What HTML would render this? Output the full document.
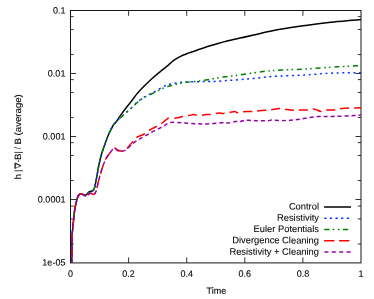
<!DOCTYPE html><html><head><meta charset="utf-8"><style>html,body{margin:0;padding:0;background:#fff}svg{display:block}svg{opacity:0.999;will-change:transform}text{text-rendering:geometricPrecision;stroke:#000;stroke-width:0.1px;font-family:"Liberation Sans",sans-serif;fill:#000}</style></head><body>
<svg width="374" height="299" viewBox="0 0 374 299">
<rect width="374" height="299" fill="#fff"/>
<path d="M70.5,16.61h3.2 M361.0,16.61h-3.2 M70.5,29.46h3.2 M361.0,29.46h-3.2 M70.5,54.54h3.2 M361.0,54.54h-3.2 M70.5,73.50h5.5 M361.0,73.50h-5.5 M70.5,79.61h3.2 M361.0,79.61h-3.2 M70.5,92.46h3.2 M361.0,92.46h-3.2 M70.5,117.54h3.2 M361.0,117.54h-3.2 M70.5,136.50h5.5 M361.0,136.50h-5.5 M70.5,142.61h3.2 M361.0,142.61h-3.2 M70.5,155.46h3.2 M361.0,155.46h-3.2 M70.5,180.54h3.2 M361.0,180.54h-3.2 M70.5,199.50h5.5 M361.0,199.50h-5.5 M70.5,206.10h3.2 M361.0,206.10h-3.2 M70.5,218.95h3.2 M361.0,218.95h-3.2 M70.5,244.00h3.2 M361.0,244.00h-3.2 M128.60,262.9v-5.5 M128.60,10.5v5.3 M186.70,262.9v-5.5 M186.70,10.5v5.3 M244.80,262.9v-5.5 M244.80,10.5v5.3 M302.90,262.9v-5.5 M302.90,10.5v5.3" stroke="#333" stroke-width="1" fill="none"/>
<rect x="70.5" y="10.5" width="290.5" height="252.39999999999998" fill="none" stroke="#161616" stroke-width="1"/>
<text transform="translate(65.4,13.50) rotate(0.03) scale(1,1.02)" font-size="9.0" text-anchor="end">0.1</text>
<text transform="translate(65.4,76.50) rotate(0.03) scale(1,1.02)" font-size="9.0" text-anchor="end">0.01</text>
<text transform="translate(65.4,139.50) rotate(0.03) scale(1,1.02)" font-size="9.0" text-anchor="end">0.001</text>
<text transform="translate(65.4,202.50) rotate(0.03) scale(1,1.02)" font-size="9.0" text-anchor="end">0.0001</text>
<text transform="translate(65.4,265.50) rotate(0.03) scale(1,1.02)" font-size="9.0" text-anchor="end">1e-05</text>
<text transform="translate(70.50,276.8) rotate(0.03) scale(1,1.02)" font-size="9.0" text-anchor="middle">0</text>
<text transform="translate(128.60,276.8) rotate(0.03) scale(1,1.02)" font-size="9.0" text-anchor="middle">0.2</text>
<text transform="translate(186.70,276.8) rotate(0.03) scale(1,1.02)" font-size="9.0" text-anchor="middle">0.4</text>
<text transform="translate(244.80,276.8) rotate(0.03) scale(1,1.02)" font-size="9.0" text-anchor="middle">0.6</text>
<text transform="translate(302.90,276.8) rotate(0.03) scale(1,1.02)" font-size="9.0" text-anchor="middle">0.8</text>
<text transform="translate(361.00,276.8) rotate(0.03) scale(1,1.02)" font-size="9.0" text-anchor="middle">1</text>
<text transform="translate(216.3,293.8) rotate(0.03) scale(1,1.02)" font-size="9.0" text-anchor="middle">Time</text>
<text transform="translate(21.2,179.4) rotate(-90) scale(1.1,1)" font-size="9.15">h</text>
<text transform="translate(21.2,172.1) rotate(-90) scale(1.0,1)" font-size="9.15">|</text>
<text transform="translate(21.2,160.1) rotate(-90) scale(1.07,1)" font-size="9.15">B</text>
<text transform="translate(21.2,153.6) rotate(-90) scale(1.0,1)" font-size="9.15">|</text>
<text transform="translate(21.2,149.3) rotate(-90) scale(0.78,1)" font-size="9.15">/</text>
<text transform="translate(21.2,144.5) rotate(-90) scale(1.05,1)" font-size="9.15">B</text>
<text transform="translate(21.2,135.4) rotate(-90) scale(1.055,1)" font-size="9.15">(average)</text>
<rect x="18.0" y="160.35" width="0.85" height="1.45" fill="#000"/>
<path d="M15.1,163.1L15.1,168.45L20.9,165.85Z" fill="none" stroke="#000" stroke-width="0.6" stroke-linejoin="miter"/><path d="M15.1,163L15.1,168.5" fill="none" stroke="#000" stroke-width="0.9"/><path d="M15.05,163.1L20.7,165.75" fill="none" stroke="#161616" stroke-width="1"/>
<g transform="scale(1,1.066)" fill="none">
<path d="M71.80,246.25C71.82,244.29 71.85,238.66 71.90,234.52C71.95,230.38 71.85,225.77 72.10,221.39C72.35,217.01 73.00,212.10 73.40,208.26C73.80,204.41 74.17,200.81 74.50,198.31C74.83,195.81 75.05,194.92 75.40,193.25C75.75,191.57 76.18,189.74 76.60,188.27C77.02,186.80 77.47,185.38 77.90,184.43C78.33,183.47 78.73,182.99 79.20,182.55C79.67,182.11 80.07,181.83 80.70,181.80C81.33,181.77 82.27,182.13 83.00,182.36C83.73,182.60 84.43,183.24 85.10,183.21C85.77,183.18 86.43,182.60 87.00,182.18C87.57,181.75 88.02,181.10 88.50,180.68C88.98,180.25 89.40,179.89 89.90,179.64C90.40,179.39 90.97,179.33 91.50,179.17C92.03,179.02 92.57,179.28 93.10,178.71C93.63,178.13 94.22,177.22 94.70,175.70C95.18,174.19 95.58,171.62 96.00,169.61C96.42,167.59 96.82,165.60 97.20,163.60C97.58,161.60 97.67,160.48 98.30,157.60C98.93,154.72 99.95,149.94 101.00,146.34C102.05,142.75 103.30,139.46 104.60,136.02C105.90,132.58 107.33,128.83 108.80,125.70C110.27,122.58 112.20,119.14 113.40,117.26C114.60,115.38 114.67,116.15 116.00,114.45C117.33,112.74 119.62,109.37 121.40,107.04C123.18,104.71 124.92,102.64 126.70,100.47C128.48,98.30 130.32,96.17 132.10,94.00C133.88,91.82 135.42,89.60 137.40,87.43C139.38,85.26 141.55,83.26 144.00,80.96C146.45,78.66 149.43,75.91 152.10,73.64C154.77,71.37 157.57,69.25 160.00,67.35C162.43,65.46 164.47,64.04 166.70,62.29C168.93,60.54 171.18,58.38 173.40,56.85C175.62,55.32 177.78,54.16 180.00,53.10C182.22,52.03 184.47,51.28 186.70,50.47C188.93,49.66 191.17,48.95 193.40,48.22C195.63,47.48 197.33,46.94 200.10,46.06C202.87,45.18 207.02,43.86 210.00,42.96C212.98,42.07 215.30,41.43 218.00,40.71C220.70,39.99 222.53,39.48 226.20,38.65C229.87,37.82 235.42,36.69 240.00,35.74C244.58,34.79 248.28,34.07 253.70,32.93C259.12,31.79 266.25,30.08 272.50,28.89C278.75,27.70 285.78,26.63 291.20,25.80C296.62,24.97 297.92,24.78 305.00,23.92C312.08,23.06 324.37,21.56 333.70,20.64C343.03,19.72 356.45,18.76 361.00,18.39" stroke="#000" stroke-width="1.45" stroke-linejoin="round"/>
<path d="M71.80,246.25C71.82,244.29 71.85,238.66 71.90,234.52C71.95,230.38 71.85,225.77 72.10,221.39C72.35,217.01 73.00,212.10 73.40,208.26C73.80,204.41 74.17,200.81 74.50,198.31C74.83,195.81 75.05,194.92 75.40,193.25C75.75,191.57 76.18,189.74 76.60,188.27C77.02,186.80 77.47,185.38 77.90,184.43C78.33,183.47 78.73,182.99 79.20,182.55C79.67,182.11 80.07,181.83 80.70,181.80C81.33,181.77 82.27,182.13 83.00,182.36C83.73,182.60 84.43,183.24 85.10,183.21C85.77,183.18 86.43,182.60 87.00,182.18C87.57,181.75 88.02,181.10 88.50,180.68C88.98,180.25 89.40,179.89 89.90,179.64C90.40,179.39 90.97,179.33 91.50,179.17C92.03,179.02 92.57,179.28 93.10,178.71C93.63,178.13 94.22,177.22 94.70,175.70C95.18,174.19 95.58,171.62 96.00,169.61C96.42,167.59 96.82,165.60 97.20,163.60C97.58,161.60 97.67,160.48 98.30,157.60C98.93,154.72 99.95,149.94 101.00,146.34C102.05,142.75 103.30,139.46 104.60,136.02C105.90,132.58 107.33,128.83 108.80,125.70C110.27,122.58 112.20,119.14 113.40,117.26C114.60,115.38 115.02,115.43 116.00,114.45C116.98,113.46 117.87,112.63 119.30,111.35C120.73,110.07 122.47,108.55 124.60,106.75C126.73,104.96 129.97,102.41 132.10,100.56C134.23,98.72 135.42,97.25 137.40,95.68C139.38,94.12 141.02,92.85 144.00,91.18C146.98,89.51 151.80,87.43 155.30,85.65C158.80,83.86 162.50,81.61 165.00,80.49C167.50,79.36 168.40,79.35 170.30,78.89C172.20,78.44 174.50,78.05 176.40,77.77C178.30,77.49 179.93,77.35 181.70,77.20C183.47,77.06 184.32,77.02 187.00,76.92C189.68,76.83 194.38,76.72 197.80,76.64C201.22,76.56 204.63,76.50 207.50,76.45C210.37,76.41 211.88,76.50 215.00,76.36C218.12,76.22 222.03,75.89 226.20,75.61C230.37,75.33 235.42,75.02 240.00,74.67C244.58,74.33 248.28,74.03 253.70,73.55C259.12,73.06 263.95,72.30 272.50,71.76C281.05,71.23 295.75,70.86 305.00,70.36C314.25,69.86 321.03,69.11 328.00,68.76C334.97,68.42 341.30,68.37 346.80,68.29C352.30,68.21 358.63,68.29 361.00,68.29" stroke="#0432ff" stroke-width="1.4" stroke-dasharray="2 3.6" stroke-dashoffset="4.75"/>
<path d="M71.80,246.25C71.82,244.29 71.85,238.66 71.90,234.52C71.95,230.38 71.85,225.77 72.10,221.39C72.35,217.01 73.00,212.10 73.40,208.26C73.80,204.41 74.17,200.81 74.50,198.31C74.83,195.81 75.05,194.92 75.40,193.25C75.75,191.57 76.18,189.74 76.60,188.27C77.02,186.80 77.47,185.38 77.90,184.43C78.33,183.47 78.73,182.99 79.20,182.55C79.67,182.11 80.07,181.83 80.70,181.80C81.33,181.77 82.27,182.13 83.00,182.36C83.73,182.60 84.43,183.24 85.10,183.21C85.77,183.18 86.43,182.60 87.00,182.18C87.57,181.75 88.02,181.10 88.50,180.68C88.98,180.25 89.40,179.89 89.90,179.64C90.40,179.39 90.97,179.33 91.50,179.17C92.03,179.02 92.57,179.28 93.10,178.71C93.63,178.13 94.22,177.22 94.70,175.70C95.18,174.19 95.58,171.62 96.00,169.61C96.42,167.59 96.82,165.60 97.20,163.60C97.58,161.60 97.67,160.48 98.30,157.60C98.93,154.72 99.95,149.94 101.00,146.34C102.05,142.75 103.30,139.46 104.60,136.02C105.90,132.58 107.33,128.83 108.80,125.70C110.27,122.58 112.20,119.14 113.40,117.26C114.60,115.38 115.02,115.40 116.00,114.45C116.98,113.49 117.87,112.77 119.30,111.54C120.73,110.30 122.47,108.80 124.60,107.04C126.73,105.27 129.97,102.78 132.10,100.94C134.23,99.09 135.42,97.51 137.40,95.97C139.38,94.42 141.02,93.25 144.00,91.65C146.98,90.06 151.80,87.99 155.30,86.40C158.80,84.80 162.27,83.11 165.00,82.08C167.73,81.05 169.37,80.82 171.70,80.21C174.03,79.60 176.55,78.94 179.00,78.42C181.45,77.91 184.07,77.41 186.40,77.11C188.73,76.81 190.73,76.84 193.00,76.64C195.27,76.44 197.58,76.19 200.00,75.89C202.42,75.59 205.08,75.25 207.50,74.86C209.92,74.47 211.38,74.03 214.50,73.55C217.62,73.06 221.95,72.50 226.20,71.95C230.45,71.40 233.87,71.08 240.00,70.26C246.13,69.45 256.03,67.84 263.00,67.07C269.97,66.31 274.80,66.06 281.80,65.67C288.80,65.28 295.72,65.23 305.00,64.73C314.28,64.23 329.00,63.16 337.50,62.66C346.00,62.16 352.08,61.93 356.00,61.73C359.92,61.52 360.17,61.49 361.00,61.44" stroke="#008000" stroke-width="1.4" stroke-dasharray="5 3.6 1.5 3.2 1.5 3.9" stroke-dashoffset="13.43"/>
<path d="M71.80,246.25C71.82,244.29 71.85,238.66 71.90,234.52C71.95,230.38 71.85,225.77 72.10,221.39C72.35,217.01 73.00,212.10 73.40,208.26C73.80,204.41 74.17,200.81 74.50,198.31C74.83,195.81 75.05,194.92 75.40,193.25C75.75,191.57 76.18,189.74 76.60,188.27C77.02,186.80 77.47,185.38 77.90,184.43C78.33,183.47 78.73,182.99 79.20,182.55C79.67,182.11 80.07,181.80 80.70,181.80C81.33,181.80 82.08,182.16 83.00,182.55C83.92,182.94 85.32,184.15 86.20,184.15C87.08,184.15 87.68,183.04 88.30,182.55C88.92,182.07 89.28,181.39 89.90,181.24C90.52,181.08 91.38,181.43 92.00,181.61C92.62,181.80 93.07,182.46 93.60,182.36C94.13,182.27 94.70,181.83 95.20,181.05C95.70,180.27 96.08,179.41 96.60,177.67C97.12,175.94 97.73,172.81 98.30,170.64C98.87,168.46 99.33,166.81 100.00,164.63C100.67,162.46 101.37,160.10 102.30,157.60C103.23,155.10 104.33,151.97 105.60,149.62C106.87,147.28 108.48,145.31 109.90,143.53C111.32,141.74 112.75,139.37 114.10,138.93C115.45,138.49 116.77,140.45 118.00,140.90C119.23,141.35 120.42,141.68 121.50,141.65C122.58,141.62 123.52,141.18 124.50,140.71C125.48,140.24 125.98,140.17 127.40,138.84C128.82,137.51 131.58,134.33 133.00,132.74C134.42,131.14 134.02,130.44 135.90,129.27C137.78,128.10 142.12,126.88 144.30,125.70C146.48,124.53 146.97,123.41 149.00,122.23C151.03,121.06 154.47,119.70 156.50,118.67C158.53,117.64 159.78,116.96 161.20,116.04C162.62,115.12 163.75,114.07 165.00,113.13C166.25,112.20 168.08,110.87 168.70,110.41" stroke="#ff0000" stroke-width="1.4" stroke-dasharray="9 5" stroke-dashoffset="9.92"/>
<path d="M168.70,110.41C169.65,110.51 172.05,111.16 174.40,110.98C176.75,110.79 180.47,109.71 182.80,109.29C185.13,108.86 186.62,108.74 188.40,108.44C190.18,108.15 192.25,107.60 193.50,107.50C194.75,107.41 194.40,107.79 195.90,107.88C197.40,107.97 200.82,108.16 202.50,108.07C204.18,107.97 204.75,107.41 206.00,107.32C207.25,107.22 208.40,107.63 210.00,107.50C211.60,107.38 214.10,106.82 215.60,106.57C217.10,106.32 217.60,106.04 219.00,106.00C220.40,105.97 222.23,106.44 224.00,106.38C225.77,106.32 227.82,105.93 229.60,105.63C231.38,105.33 233.38,104.57 234.70,104.60C236.02,104.63 236.12,105.77 237.50,105.82C238.88,105.86 240.67,105.08 243.00,104.88C245.33,104.67 249.17,104.74 251.50,104.60C253.83,104.46 254.65,104.24 257.00,104.03C259.35,103.83 263.23,103.55 265.60,103.38C267.97,103.21 268.87,103.25 271.20,103.00C273.53,102.75 277.27,101.94 279.60,101.88C281.93,101.81 282.85,102.36 285.20,102.63C287.55,102.89 291.28,103.38 293.70,103.47C296.12,103.56 297.32,103.24 299.70,103.19C302.08,103.14 305.67,103.35 308.00,103.19C310.33,103.03 311.50,102.02 313.70,102.25C315.90,102.49 319.02,104.44 321.20,104.60C323.38,104.75 324.45,103.42 326.80,103.19C329.15,102.95 332.95,103.39 335.30,103.19C337.65,102.99 338.57,102.27 340.90,101.97C343.23,101.67 346.95,101.50 349.30,101.41C351.65,101.31 353.05,101.47 355.00,101.41C356.95,101.34 360.00,101.09 361.00,101.03" stroke="#ff0000" stroke-width="1.4" stroke-dasharray="9 5" stroke-dashoffset="8.42"/>
<path d="M71.80,246.25C71.82,244.29 71.85,238.66 71.90,234.52C71.95,230.38 71.85,225.77 72.10,221.39C72.35,217.01 73.00,212.10 73.40,208.26C73.80,204.41 74.17,200.81 74.50,198.31C74.83,195.81 75.05,194.92 75.40,193.25C75.75,191.57 76.18,189.74 76.60,188.27C77.02,186.80 77.47,185.38 77.90,184.43C78.33,183.47 78.73,182.99 79.20,182.55C79.67,182.11 80.07,181.80 80.70,181.80C81.33,181.80 82.08,182.16 83.00,182.55C83.92,182.94 85.32,184.15 86.20,184.15C87.08,184.15 87.68,183.04 88.30,182.55C88.92,182.07 89.28,181.39 89.90,181.24C90.52,181.08 91.38,181.43 92.00,181.61C92.62,181.80 93.07,182.46 93.60,182.36C94.13,182.27 94.70,181.83 95.20,181.05C95.70,180.27 96.08,179.41 96.60,177.67C97.12,175.94 97.73,172.81 98.30,170.64C98.87,168.46 99.33,166.81 100.00,164.63C100.67,162.46 101.37,160.10 102.30,157.60C103.23,155.10 104.33,151.97 105.60,149.62C106.87,147.28 108.48,145.26 109.90,143.53C111.32,141.79 112.75,139.56 114.10,139.21C115.45,138.87 116.90,140.96 118.00,141.46C119.10,141.96 119.62,142.25 120.70,142.21C121.78,142.18 123.38,141.74 124.50,141.28C125.62,140.81 125.98,140.53 127.40,139.40C128.82,138.27 131.12,135.93 133.00,134.52C134.88,133.11 136.65,132.13 138.70,130.96C140.75,129.78 142.80,128.80 145.30,127.49C147.80,126.17 150.75,124.55 153.70,123.08C156.65,121.61 160.18,120.03 163.00,118.67C165.82,117.31 167.15,115.46 170.60,114.92C174.05,114.37 179.02,115.18 183.70,115.38C188.38,115.59 194.95,115.98 198.70,116.14C202.45,116.29 202.45,116.48 206.20,116.32C209.95,116.17 217.48,115.37 221.20,115.20C224.92,115.03 226.20,115.48 228.50,115.29C230.80,115.10 233.08,114.27 235.00,114.07C236.92,113.87 238.50,114.24 240.00,114.07C241.50,113.90 242.55,113.24 244.00,113.04C245.45,112.84 246.70,112.82 248.70,112.85C250.70,112.88 252.87,113.15 256.00,113.23C259.13,113.31 264.92,113.43 267.50,113.32C270.08,113.21 269.58,112.62 271.50,112.57C273.42,112.52 276.55,112.95 279.00,113.04C281.45,113.13 283.87,113.20 286.20,113.13C288.53,113.07 290.70,112.88 293.00,112.66C295.30,112.45 297.50,112.18 300.00,111.82C302.50,111.46 305.08,110.91 308.00,110.51C310.92,110.10 314.67,109.60 317.50,109.38C320.33,109.16 322.50,109.22 325.00,109.19C327.50,109.16 330.00,109.22 332.50,109.19C335.00,109.16 336.88,109.12 340.00,109.01C343.12,108.90 347.70,108.72 351.20,108.54C354.70,108.35 359.37,107.99 361.00,107.88" stroke="#9400a8" stroke-width="1.4" stroke-dasharray="4 3" stroke-dashoffset="1.91"/>
</g>
<text x="319" y="209.50" transform="rotate(0.03 319 209.50)" font-size="9.35" text-anchor="end" style="stroke-width:0.06px">Control</text>
<text x="319" y="220.80" transform="rotate(0.03 319 220.80)" font-size="9.35" text-anchor="end" style="stroke-width:0.06px">Resistivity</text>
<text x="319" y="232.10" transform="rotate(0.03 319 232.10)" font-size="9.35" text-anchor="end" style="stroke-width:0.06px">Euler Potentials</text>
<text x="319" y="243.40" transform="rotate(0.03 319 243.40)" font-size="9.35" text-anchor="end" style="stroke-width:0.06px">Divergence Cleaning</text>
<text x="319" y="254.70" transform="rotate(0.03 319 254.70)" font-size="9.35" text-anchor="end" style="stroke-width:0.06px">Resistivity + Cleaning</text>
<path d="M324.1,207H351" stroke="#000" stroke-width="1.5"/>
<path d="M324.3,218.3H351" stroke="#0432ff" stroke-width="1.5" stroke-dasharray="2.2 3.4"/>
<path d="M324.2,229.6H351" stroke="#008000" stroke-width="1.5" stroke-dasharray="5.3 3.2 1.6 3.7 1.6 3.3"/>
<path d="M324.1,240.7H351" stroke="#ff0000" stroke-width="1.4" stroke-dasharray="10.3 4.7"/>
<path d="M324.4,252H351" stroke="#9400a8" stroke-width="1.5" stroke-dasharray="4 3.4"/>
</svg></body></html>
